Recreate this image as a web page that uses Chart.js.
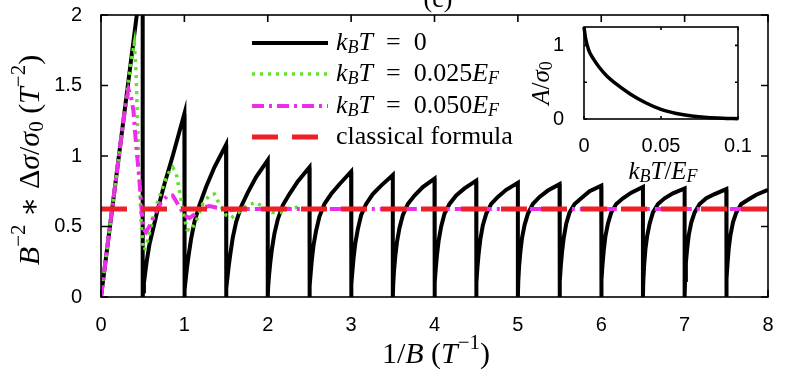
<!DOCTYPE html>
<html>
<head>
<meta charset="utf-8">
<script src="https://cdn.jsdelivr.net/npm/chart.js@4.4.0/dist/chart.umd.min.js"></script>
<style>
  html, body { margin: 0; padding: 0; background: #fff; }
  #wrap { position: relative; width: 800px; height: 385px; }
  #chart { position: absolute; left: 0; top: 0; }
  #inset { position: absolute; left: 530px; top: 10px; }
</style>
</head>
<body>
<div id="wrap">
  <canvas id="chart" width="800" height="385"></canvas>
  <canvas id="inset" width="230" height="180"></canvas>
</div>
<script>
// --- data ---
// kBT = 0 : straight rise, then one sawtooth per 0.5 T^-1
const blackLeadX = [0, 0.5]
const blackLeadY = [0, 2.33]
const toothStarts = [0.5, 1, 1.5, 2, 2.5, 3, 3.5, 4, 4.5, 5, 5.5, 6, 6.5, 7, 7.5]
const toothOffsets = [0, 0.005, 0.015, 0.03, 0.05, 0.08, 0.12, 0.18, 0.26, 0.36, 0.5]
const toothY = [
    [0, 0.04, 0.10, 0.17, 0.26, 0.37, 0.47, 0.62, 0.80, 1.00, 1.30],
    [0, 0.05, 0.12, 0.20, 0.29, 0.41, 0.53, 0.65, 0.78, 0.92, 1.08],
    [0, 0.06, 0.13, 0.21, 0.30, 0.42, 0.53, 0.64, 0.74, 0.85, 0.97],
    [0, 0.07, 0.15, 0.24, 0.34, 0.45, 0.55, 0.65, 0.73, 0.82, 0.92],
    [0, 0.08, 0.17, 0.27, 0.37, 0.47, 0.57, 0.66, 0.73, 0.80, 0.89],
    [0, 0.09, 0.18, 0.28, 0.38, 0.48, 0.58, 0.66, 0.73, 0.79, 0.865],
    [0, 0.09, 0.19, 0.29, 0.39, 0.49, 0.58, 0.66, 0.72, 0.78, 0.84],
    [0, 0.10, 0.20, 0.30, 0.40, 0.50, 0.59, 0.66, 0.72, 0.77, 0.825],
    [0, 0.10, 0.21, 0.31, 0.41, 0.51, 0.59, 0.66, 0.71, 0.76, 0.81],
    [0, 0.11, 0.22, 0.32, 0.42, 0.51, 0.59, 0.66, 0.71, 0.755, 0.80],
    [0, 0.11, 0.22, 0.32, 0.42, 0.52, 0.60, 0.66, 0.70, 0.75, 0.79],
    [0, 0.12, 0.23, 0.33, 0.43, 0.52, 0.60, 0.66, 0.70, 0.74, 0.78],
    [0, 0.12, 0.23, 0.34, 0.43, 0.52, 0.60, 0.66, 0.70, 0.735, 0.77],
    [0, 0.12, 0.24, 0.34, 0.44, 0.53, 0.60, 0.66, 0.70, 0.73, 0.765],
    [0, 0.13, 0.24, 0.35, 0.44, 0.53, 0.60, 0.66, 0.69, 0.725, 0.76]
]

// kBT = 0.025 EF
const greenX = [0, 0.1, 0.2, 0.3, 0.36, 0.40, 0.42, 0.44, 0.46, 0.48, 0.50, 0.52, 0.55, 0.6, 0.66, 0.73, 0.8, 0.86, 0.9, 0.94, 0.98, 1.03, 1.08, 1.15, 1.22, 1.3, 1.36, 1.42, 1.5, 1.56, 1.65, 1.75, 1.85, 1.95, 2.05, 2.15, 2.25, 2.4]
const greenY = [0, 0.47, 0.93, 1.40, 1.67, 1.80, 1.60, 1.20, 0.85, 0.55, 0.38, 0.33, 0.38, 0.50, 0.64, 0.76, 0.87, 0.92, 0.88, 0.76, 0.62, 0.48, 0.47, 0.55, 0.66, 0.72, 0.73, 0.66, 0.58, 0.56, 0.60, 0.65, 0.67, 0.64, 0.60, 0.60, 0.63, 0.64]

// kBT = 0.050 EF
const magentaX = [0, 0.1, 0.2, 0.28, 0.33, 0.36, 0.39, 0.41, 0.43, 0.45, 0.47, 0.49, 0.51, 0.54, 0.58, 0.64, 0.72, 0.8, 0.86, 0.93, 1.0, 1.06, 1.13, 1.2, 1.3, 1.42, 1.55, 1.7, 8]
const magentaY = [0, 0.47, 0.93, 1.30, 1.47, 1.42, 1.32, 1.16, 1.02, 0.90, 0.76, 0.60, 0.48, 0.46, 0.50, 0.58, 0.67, 0.72, 0.72, 0.65, 0.58, 0.56, 0.59, 0.63, 0.645, 0.63, 0.615, 0.625, 0.625]

// classical formula
const classicalX = [0, 8]
const classicalY = [0.625, 0.625]

// inset: A / sigma0 vs kBT/EF
const insetX = [0, 0.001, 0.003, 0.006, 0.01, 0.015, 0.02, 0.03, 0.04, 0.05, 0.06, 0.07, 0.08, 0.09, 0.1]
const insetY = [1.25, 1.10, 0.94, 0.82, 0.70, 0.58, 0.49, 0.34, 0.22, 0.13, 0.075, 0.04, 0.02, 0.01, 0.005]

const mainXTicks = [0, 1, 2, 3, 4, 5, 6, 7, 8]
const mainYTicks = [0, 0.5, 1, 1.5, 2]
const insetXTicks = [0, 0.05, 0.1]
const insetYTicks = [0, 0.5, 1]

const RED = '#ee1f26'
const MAGENTA = '#ec2ee6'
const GREEN = '#5fe22c'
const SERIF = '"Liberation Serif", "DejaVu Serif", serif'
const SANS = '"Liberation Sans", Arial, sans-serif'
const EQ = '\u2002=\u2002'

Chart.defaults.color = '#000'

const toPts = (xs, ys) => xs.map((x, i) => ({ x, y: ys[i] }))

const blackPts = toPts(blackLeadX, blackLeadY)
toothStarts.forEach((s, t) => {
    toothOffsets.forEach((d, j) => blackPts.push({ x: s + d, y: toothY[t][j] }))
})

// draw a run of text pieces: {t, i: italic, s: 'sub' | 'sup'}
function drawRich(ctx, parts, x, y, size, align) {
    const fontFor = p => (p.i ? 'italic ' : '') + (p.s ? Math.round(size * 0.7) : size) + 'px ' + SERIF
    let w = 0
    parts.forEach(p => { ctx.font = fontFor(p); w += ctx.measureText(p.t).width })
    let cx = align === 'center' ? x - w / 2 : x
    ctx.textAlign = 'left'
    parts.forEach(p => {
        ctx.font = fontFor(p)
        const dy = p.s === 'sub' ? size * 0.22 : p.s === 'sup' ? -size * 0.38 : 0
        ctx.fillText(p.t, cx, y + dy)
        cx += ctx.measureText(p.t).width
    })
}

// box around the plot with inward ticks on all four sides
function framePlugin(xTicks, yTicks, len, lw) {
    return {
        id: 'frame',
        afterDatasetsDraw(chart) {
            const { ctx, chartArea: a, scales } = chart
            ctx.save()
            ctx.strokeStyle = '#000'
            ctx.lineWidth = lw
            ctx.setLineDash([])
            ctx.strokeRect(a.left, a.top, a.right - a.left, a.bottom - a.top)
            ctx.beginPath()
            xTicks.forEach(v => {
                const px = scales.x.getPixelForValue(v)
                ctx.moveTo(px, a.bottom); ctx.lineTo(px, a.bottom - len)
                ctx.moveTo(px, a.top); ctx.lineTo(px, a.top + len)
            })
            yTicks.forEach(v => {
                const py = scales.y.getPixelForValue(v)
                ctx.moveTo(a.left, py); ctx.lineTo(a.left + len, py)
                ctx.moveTo(a.right, py); ctx.lineTo(a.right - len, py)
            })
            ctx.stroke()
            ctx.restore()
        }
    }
}

// keep the plot box exactly where the layout padding puts it
function fixSize(prop, size) {
    return s => {
        s[prop] = size
        s.paddingTop = 0; s.paddingBottom = 0; s.paddingLeft = 0; s.paddingRight = 0
    }
}

const kB = [{ t: 'k', i: 1 }, { t: 'B', i: 1, s: 'sub' }, { t: 'T', i: 1 }]
const legendRows = [
    { parts: kB.concat([{ t: EQ + '0' }]), color: '#000', width: 4, dash: [] },
    { parts: kB.concat([{ t: EQ + '0.025' }, { t: 'E', i: 1 }, { t: 'F', i: 1, s: 'sub' }]), color: GREEN, width: 3.5, dash: [3, 5] },
    { parts: kB.concat([{ t: EQ + '0.050' }, { t: 'E', i: 1 }, { t: 'F', i: 1, s: 'sub' }]), color: MAGENTA, width: 4, dash: [12, 5, 3, 5] },
    { parts: [{ t: 'classical formula' }], color: RED, width: 5, dash: [26, 14] }
]

const mainText = {
    id: 'mainText',
    afterDraw(chart) {
        const ctx = chart.ctx
        ctx.save()
        ctx.fillStyle = '#000'
        ctx.textBaseline = 'alphabetic'
        // panel label, cut off by the top edge
        drawRich(ctx, [{ t: '(c)' }], 438, 7, 26, 'center')

        ctx.textBaseline = 'middle'
        drawRich(ctx, [{ t: '1/' }, { t: 'B', i: 1 }, { t: ' (' }, { t: 'T', i: 1 }, { t: '−1', s: 'sup' }, { t: ')' }], 436, 355, 30, 'center')

        ctx.save()
        ctx.translate(31, 160)
        ctx.rotate(-Math.PI / 2)
        drawRich(ctx, [{ t: 'B', i: 1 }, { t: '−2', s: 'sup' }, { t: ' ∗ Δ' }, { t: 'σ', i: 1 }, { t: '/' }, { t: 'σ', i: 1 }, { t: '0', s: 'sub' },
            { t: ' (' }, { t: 'T', i: 1 }, { t: '−2', s: 'sup' }, { t: ')' }], 0, 0, 30, 'center')
        ctx.restore()

        // legend
        const rowY = [43, 74, 106, 137]
        legendRows.forEach((r, i) => {
            ctx.beginPath()
            ctx.strokeStyle = r.color
            ctx.lineWidth = r.width
            ctx.setLineDash(r.dash)
            ctx.moveTo(252, rowY[i]); ctx.lineTo(328, rowY[i])
            ctx.stroke()
            ctx.setLineDash([])
            ctx.fillStyle = '#000'
            drawRich(ctx, r.parts, 336, rowY[i], 26, 'left')
        })
        ctx.restore()
    }
}

new Chart(document.getElementById('chart'), {
    type: 'line',
    data: {
        datasets: [
            { label: 'classical formula', data: toPts(classicalX, classicalY), borderColor: RED, borderWidth: 5, borderDash: [26, 14] },
            { label: 'kBT = 0.050EF', data: toPts(magentaX, magentaY), borderColor: MAGENTA, borderWidth: 4, borderDash: [12, 5, 3, 5] },
            { label: 'kBT = 0.025EF', data: toPts(greenX, greenY), borderColor: GREEN, borderWidth: 3.5, borderDash: [3, 5] },
            { label: 'kBT = 0', data: blackPts, borderColor: '#000', borderWidth: 4, clip: 0 }
        ]
    },
    options: {
        responsive: false,
        animation: false,
        layout: { padding: { top: 15, right: 32, left: 0, bottom: 0 } },
        elements: { point: { radius: 0 }, line: { tension: 0, borderJoinStyle: 'miter' } },
        plugins: { legend: { display: false }, tooltip: { enabled: false } },
        scales: {
            x: {
                type: 'linear', min: 0, max: 8,
                grid: { display: false }, border: { display: false },
                afterBuildTicks: s => { s.ticks = mainXTicks.map(value => ({ value })) },
                ticks: { padding: 8, maxRotation: 0, font: { family: SANS, size: 20 }, callback: v => String(v) },
                afterFit: fixSize('height', 88)
            },
            y: {
                type: 'linear', min: 0, max: 2,
                grid: { display: false }, border: { display: false },
                afterBuildTicks: s => { s.ticks = mainYTicks.map(value => ({ value })) },
                ticks: { padding: 11, font: { family: SANS, size: 20 }, callback: v => String(v) },
                afterFit: fixSize('width', 101)
            }
        }
    },
    plugins: [framePlugin(mainXTicks, mainYTicks, 7, 1.6), mainText]
})

const insetText = {
    id: 'insetText',
    afterDraw(chart) {
        const ctx = chart.ctx
        ctx.save()
        ctx.fillStyle = '#000'
        ctx.textBaseline = 'middle'
        drawRich(ctx, kB.concat([{ t: '/' }, { t: 'E', i: 1 }, { t: 'F', i: 1, s: 'sub' }]), 133, 162, 25, 'center')
        ctx.save()
        ctx.translate(12, 73)
        ctx.rotate(-Math.PI / 2)
        drawRich(ctx, [{ t: 'A', i: 1 }, { t: '/' }, { t: 'σ', i: 1 }, { t: '0', s: 'sub' }], 0, 0, 25, 'center')
        ctx.restore()
        ctx.restore()
    }
}

new Chart(document.getElementById('inset'), {
    type: 'line',
    data: {
        datasets: [
            { data: toPts(insetX, insetY), borderColor: '#000', borderWidth: 3.5, cubicInterpolationMode: 'monotone', clip: 2 }
        ]
    },
    options: {
        responsive: false,
        animation: false,
        layout: { padding: { top: 17, right: 22, left: 0, bottom: 0 } },
        elements: { point: { radius: 0 } },
        plugins: { legend: { display: false }, tooltip: { enabled: false } },
        scales: {
            x: {
                type: 'linear', min: 0, max: 0.1,
                grid: { display: false }, border: { display: false },
                afterBuildTicks: s => { s.ticks = insetXTicks.map(value => ({ value })) },
                ticks: { padding: 7, maxRotation: 0, font: { family: SANS, size: 20 }, callback: v => String(v) },
                afterFit: fixSize('height', 71)
            },
            y: {
                type: 'linear', min: 0, max: 1.25,
                grid: { display: false }, border: { display: false },
                afterBuildTicks: s => { s.ticks = insetYTicks.map(value => ({ value })) },
                ticks: { padding: 12, font: { family: SANS, size: 20 }, callback: v => (v === 0.5 ? '' : String(v)) },
                afterFit: fixSize('width', 54)
            }
        }
    },
    plugins: [framePlugin(insetXTicks, insetYTicks, 3, 1.6), insetText]
})
</script>
</body>
</html>
